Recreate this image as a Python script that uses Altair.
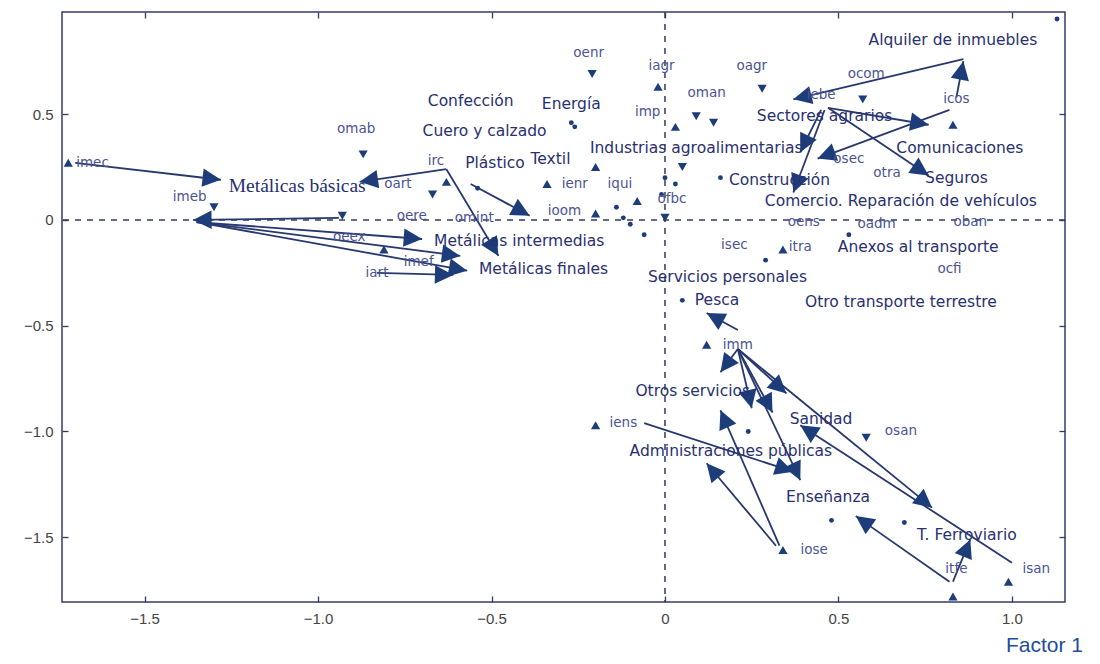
import math
import altair as alt
import pandas as pd

# ---------------- data (factor coordinates) ----------------
sector_names = ["Alquiler de inmuebles", "Confección", "Energía", "Cuero y calzado", "Plástico",
                "Textil", "Industrias agroalimentarias", "Sectores agrarios", "Comunicaciones",
                "Seguros", "Construcción", "Comercio. Reparación de vehículos",
                "Metálicas intermedias", "Metálicas finales", "Anexos al transporte",
                "Servicios personales", "Otro transporte terrestre", "Pesca", "Otros servicios",
                "Sanidad", "Administraciones públicas", "Enseñanza", "T. Ferroviario"]
sector_x = [0.83, -0.56, -0.27, -0.52, -0.49, -0.33, 0.09, 0.46, 0.85, 0.84, 0.33, 0.68,
            -0.42, -0.35, 0.73, 0.18, 0.68, 0.15, 0.08, 0.45, 0.19, 0.47, 0.87]
sector_y = [0.85, 0.56, 0.55, 0.42, 0.27, 0.29, 0.34, 0.49, 0.34, 0.20, 0.19, 0.09,
            -0.10, -0.23, -0.13, -0.27, -0.39, -0.38, -0.81, -0.94, -1.09, -1.31, -1.49]

serif_names = ["Metálicas básicas"]
serif_x = [-1.06]
serif_y = [0.16]

code_names = ["oenr", "iagr", "oagr", "ocom", "iebe", "icos", "imp", "oman", "omab", "irc",
              "oart", "imec", "imeb", "oere", "omint", "ioom", "ienr", "iqui", "ofbc", "oeex",
              "imef", "iart", "oens", "oadm", "oban", "isec", "itra", "osec", "otra", "ocfi",
              "imm", "iens", "iose", "osan", "isan", "itfe"]
code_x = [-0.22, -0.01, 0.25, 0.58, 0.45, 0.84, -0.05, 0.12, -0.89, -0.66,
          -0.77, -1.65, -1.37, -0.73, -0.55, -0.29, -0.26, -0.13, 0.02, -0.91,
          -0.71, -0.83, 0.40, 0.61, 0.88, 0.20, 0.39, 0.53, 0.64, 0.82,
          0.21, -0.12, 0.43, 0.68, 1.07, 0.84]
code_y = [0.79, 0.73, 0.73, 0.69, 0.59, 0.57, 0.51, 0.60, 0.43, 0.28,
          0.17, 0.27, 0.11, 0.02, 0.01, 0.04, 0.17, 0.17, 0.10, -0.08,
          -0.20, -0.25, -0.01, -0.02, -0.01, -0.12, -0.13, 0.29, 0.22, -0.23,
          -0.59, -0.96, -1.56, -1.00, -1.65, -1.65]

up_x = [-1.72, -0.81, -0.63, -0.34, -0.20, -0.08, -0.20, -0.02, 0.03, 0.83, 0.34,
        0.12, -0.20, 0.34, 0.83, 0.99]
up_y = [0.27, -0.14, 0.18, 0.17, 0.03, 0.09, 0.25, 0.63, 0.44, 0.45, -0.14,
        -0.59, -0.97, -1.56, -1.78, -1.71]

down_x = [-0.87, -0.67, -1.30, -0.21, 0.09, 0.14, 0.28, 0.57, 0.00, 0.05, 0.58, -0.93]
down_y = [0.31, 0.12, 0.06, 0.69, 0.49, 0.46, 0.62, 0.57, 0.01, 0.25, -1.03, 0.02]

dot_x = [-0.54, -0.27, -0.26, 0.16, -0.14, -0.12, -0.10, -0.06, 0.00, 0.03, -0.01,
         0.29, 0.05, 0.53, 1.13, 0.24, 0.48, 0.69]
dot_y = [0.15, 0.46, 0.44, 0.20, 0.06, 0.01, -0.02, -0.07, 0.20, 0.17, 0.12,
         -0.19, -0.38, -0.07, 0.95, -1.00, -1.42, -1.43]

arrow_x1 = [-1.70, -1.35, -1.35, -1.35, -0.94, -0.63, -0.63, -0.56, -0.83,
            0.86, 0.84, 0.47, 0.47, 0.46, 0.45, 0.82,
            0.21, 0.21, 0.21, 0.21, 0.21, 0.21, 0.21, 0.33, 0.32, -0.06, 1.00, 0.82, 0.83]
arrow_y1 = [0.27, -0.01, -0.01, -0.01, 0.01, 0.24, 0.24, 0.17, -0.25,
            0.76, 0.58, 0.53, 0.53, 0.52, 0.52, 0.52,
            -0.52, -0.61, -0.61, -0.61, -0.61, -0.61, -0.61, -1.54, -1.54, -0.96, -1.62, -1.71, -1.71]
arrow_x2 = [-1.28, -0.70, -0.59, -0.57, -1.36, -0.88, -0.48, -0.39, -0.61,
            0.37, 0.86, 0.76, 0.76, 0.37, 0.39, 0.44,
            0.12, 0.16, 0.25, 0.31, 0.35, 0.39, 0.77, 0.16, 0.12, 0.37, 0.39, 0.55, 0.88]
arrow_y2 = [0.19, -0.09, -0.17, -0.24, 0.00, 0.18, -0.17, 0.02, -0.26,
            0.57, 0.75, 0.45, 0.21, 0.13, 0.32, 0.29,
            -0.44, -0.72, -0.89, -0.91, -0.82, -1.23, -1.36, -0.90, -1.15, -1.19, -0.97, -1.40, -1.51]

x_ticks = [-1.5, -1.0, -0.5, 0, 0.5, 1.0]
y_ticks = [-1.5, -1.0, -0.5, 0, 0.5]

# ---------------- styling ----------------
W, H = 1003, 590
XDOM = [-1.738, 1.153]
YDOM = [-1.806, 0.983]
NAVY = "#1d3c7a"
TXT = "#283070"
CODE = "#4a5494"
FONT = "Liberation Sans"
LFONT = "DejaVu Sans"
TICK = "#333a66"

xs = alt.Scale(domain=XDOM, nice=False, zero=False)
ys = alt.Scale(domain=YDOM, nice=False, zero=False)
lab = "datum.value == 0 ? '0' : format(datum.value, '.1f')"

ax_bottom = alt.Axis(values=x_ticks, labelExpr=lab, grid=False, domain=False, tickSize=6, offset=-6,
                     tickColor=TICK, tickWidth=1.3, labelFont=FONT, labelFontSize=15, labelColor="#444",
                     labelPadding=9, title="Factor 1", titleX=982, titleY=55,
                     titleFont=FONT, titleFontSize=21, titleColor="#1f4c9c",
                     titleFontWeight="normal", titleAlign="center", titleBaseline="alphabetic")
ax_left = alt.Axis(values=y_ticks, labelExpr=lab, grid=False, domain=False, tickSize=6, offset=-6,
                   tickColor=TICK, tickWidth=1.3, labelFont=FONT, labelFontSize=15, labelColor="#444",
                   labelPadding=9, title="")
ax_top = alt.Axis(orient="top", values=x_ticks, grid=False, domain=False, labels=False, tickSize=6,
                  offset=-6, tickColor=TICK, tickWidth=1.3, title="")
ax_right = alt.Axis(orient="right", values=y_ticks, grid=False, domain=False, labels=False, tickSize=6,
                    offset=-6, tickColor=TICK, tickWidth=1.3, title="")


def X(f, axis=None):
    return alt.X(f, type="quantitative", scale=xs, axis=axis)


def Y(f, axis=None):
    return alt.Y(f, type="quantitative", scale=ys, axis=axis)


sectors = pd.DataFrame({"name": sector_names, "x": sector_x, "y": sector_y})
serif = pd.DataFrame({"name": serif_names, "x": serif_x, "y": serif_y})
codes = pd.DataFrame({"name": code_names, "x": code_x, "y": code_y})
ups = pd.DataFrame({"x": up_x, "y": up_y})
downs = pd.DataFrame({"x": down_x, "y": down_y})
dots = pd.DataFrame({"x": dot_x, "y": dot_y})
arrows = pd.DataFrame({"x": arrow_x1, "y": arrow_y1, "x2": arrow_x2, "y2": arrow_y2})
px_x = W / (XDOM[1] - XDOM[0])
px_y = H / (YDOM[1] - YDOM[0])
arrows["angle"] = [
    (math.degrees(math.atan2((b - a) * px_x, (d - c) * px_y)) + 360) % 360
    for a, b, c, d in zip(arrows.x, arrows.x2, arrows.y, arrows.y2)
]
zero = pd.DataFrame({"v": [0]})

vline = alt.Chart(zero).mark_rule(color=TICK, strokeDash=[6, 6], strokeWidth=1.5).encode(x=X("v"))
hline = alt.Chart(zero).mark_rule(color=TICK, strokeDash=[6, 6], strokeWidth=1.5).encode(y=Y("v"))

shafts = alt.Chart(arrows).mark_rule(color="#27386e", strokeWidth=1.8).encode(
    x=X("x", ax_bottom), y=Y("y", ax_left), x2="x2", y2="y2")
heads = alt.Chart(arrows).mark_point(
    shape="M0,0L0.85,1.7L-0.85,1.7Z", filled=True, opacity=1, color=NAVY, size=470
).encode(x=X("x2"), y=Y("y2"), angle=alt.Angle("angle:Q", scale=None))

up_l = alt.Chart(ups).mark_point(shape="triangle-up", filled=True, opacity=1, color=NAVY, size=85).encode(
    x=X("x"), y=Y("y"))
down_l = alt.Chart(downs).mark_point(shape="triangle-down", filled=True, opacity=1, color=NAVY, size=85).encode(
    x=X("x"), y=Y("y"))
dot_l = alt.Chart(dots).mark_point(shape="circle", filled=True, opacity=1, color=NAVY, size=24).encode(
    x=X("x", ax_top), y=Y("y", ax_right))

sec_l = alt.Chart(sectors).mark_text(font=LFONT, fontSize=15.5, color=TXT).encode(
    x=X("x"), y=Y("y"), text="name:N")
serif_l = alt.Chart(serif).mark_text(font="Liberation Serif", fontSize=19.5, color=TXT).encode(
    x=X("x"), y=Y("y"), text="name:N")
code_l = alt.Chart(codes).mark_text(font=LFONT, fontSize=13.5, color=CODE).encode(
    x=X("x"), y=Y("y"), text="name:N")

chart = alt.layer(vline, hline, shafts, heads, up_l, down_l, dot_l, sec_l, serif_l, code_l).resolve_axis(
    x="independent", y="independent"
).properties(
    width=W, height=H,
    autosize=alt.AutoSizeParams(type="none"),
    padding={"left": 54, "top": 4, "right": 27, "bottom": 54},
    background="white",
).configure_view(stroke="#363c6a", strokeWidth=1.5)

chart.save("out.html", embed_options={"renderer": "svg", "actions": False})
